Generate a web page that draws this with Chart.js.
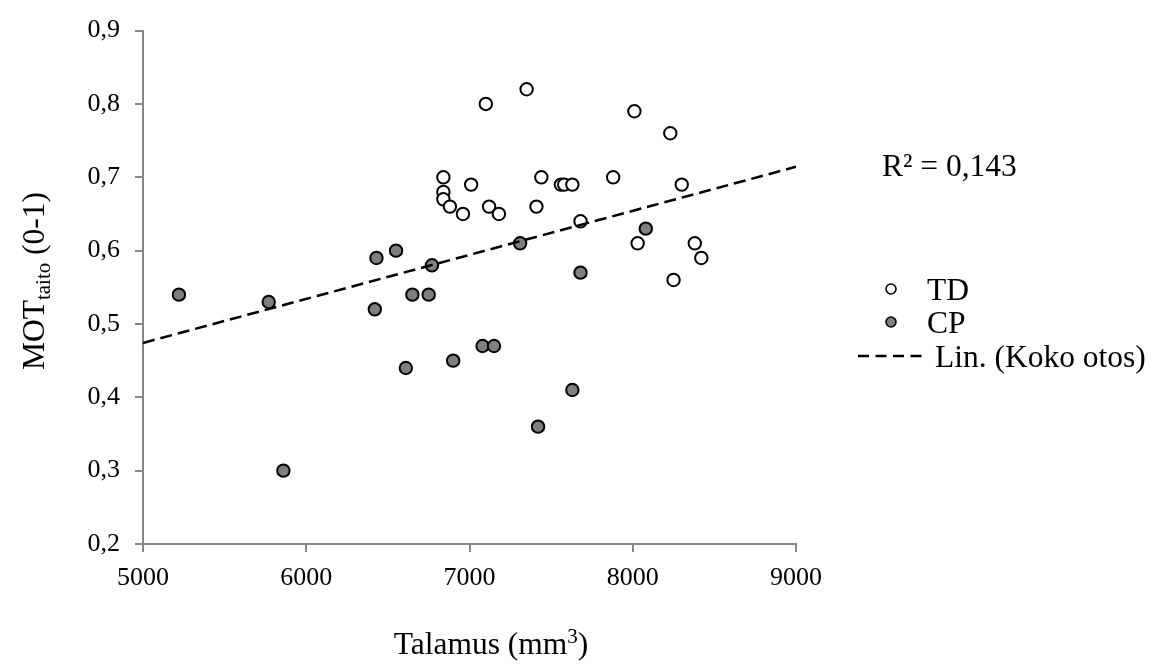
<!DOCTYPE html>
<html>
<head>
<meta charset="utf-8">
<script src="https://cdn.jsdelivr.net/npm/chart.js@4.4.1/dist/chart.umd.min.js"></script>
<style>
    body { margin: 0; background: #fff; }
    #wrap { width: 1157px; height: 664px; position: relative; }
</style>
</head>
<body>
<div id="wrap"><canvas id="chart" width="1157" height="664"></canvas></div>
<script>
// Data (Talamus mm3 vs MOT taito)
const tdX = [7100, 7350, 8010, 8230, 6840, 6840, 6840, 6880, 6960, 7010, 7120, 7180,
             7410, 7440, 7560, 7580, 7630, 7880, 7680, 8300, 8030, 8380, 8420, 8250];
const tdY = [0.80, 0.82, 0.79, 0.76, 0.70, 0.68, 0.67, 0.66, 0.65, 0.69, 0.66, 0.65,
             0.66, 0.70, 0.69, 0.69, 0.69, 0.70, 0.64, 0.69, 0.61, 0.61, 0.59, 0.56];
const cpX = [5220, 5770, 5860, 6420, 6430, 6550, 6610, 6650, 6750, 6770, 6900, 7080,
             7150, 7310, 7420, 7630, 7680, 8080];
const cpY = [0.54, 0.53, 0.30, 0.52, 0.59, 0.60, 0.44, 0.54, 0.54, 0.58, 0.45, 0.47,
             0.47, 0.61, 0.36, 0.41, 0.57, 0.63];
const xTicks = [5000, 6000, 7000, 8000, 9000];
const yTicks = [0.2, 0.3, 0.4, 0.5, 0.6, 0.7, 0.8, 0.9];
const trendRange = [5000, 9000];
const r2Label = 'R² = 0,143';
const seriesNames = ['TD', 'CP', 'Lin. (Koko otos)'];

const FONT = "'Liberation Serif', 'Times New Roman', serif";
const AXIS_GREY = '#868686';
const CP_FILL = '#7f7f7f';

const toPoints = (xs, ys) => xs.map((x, i) => ({ x: x, y: ys[i] }));

// Linear fit over the whole sample
const fitLine = () => {
    const xs = tdX.concat(cpX);
    const ys = tdY.concat(cpY);
    const n = xs.length;
    const mx = xs.reduce((a, b) => a + b, 0) / n;
    const my = ys.reduce((a, b) => a + b, 0) / n;
    let sxy = 0, sxx = 0;
    for (let i = 0; i < n; i++) {
        sxy += (xs[i] - mx) * (ys[i] - my);
        sxx += (xs[i] - mx) * (xs[i] - mx);
    }
    const b = sxy / sxx;
    const a = my - b * mx;
    return trendRange.map(x => ({ x: x, y: a + b * x }));
}

// Titles, R² label and legend drawn on the canvas
const textPlugin = {
    id: 'textPlugin',
    afterDraw(chart) {
        const ctx = chart.ctx;
        ctx.save();
        ctx.fillStyle = '#000';
        ctx.textBaseline = 'alphabetic';

        // x axis title with superscript
        const big = '31.5px ' + FONT, small = '21px ' + FONT;
        ctx.font = big;
        const t1 = 'Talamus (mm', t3 = ')';
        const w1 = ctx.measureText(t1).width, w3 = ctx.measureText(t3).width;
        ctx.font = small;
        const w2 = ctx.measureText('3').width;
        let x = 491 - (w1 + w2 + w3) / 2;
        const by = 654;
        ctx.font = big; ctx.textAlign = 'left';
        ctx.fillText(t1, x, by); x += w1;
        ctx.font = small; ctx.fillText('3', x, by - 11); x += w2;
        ctx.font = big; ctx.fillText(t3, x, by);

        // y axis title with subscript, rotated
        ctx.save();
        ctx.translate(44, 281);
        ctx.rotate(-Math.PI / 2);
        ctx.font = big;
        const s1 = 'MOT', s3 = ' (0-1)';
        const v1 = ctx.measureText(s1).width, v3 = ctx.measureText(s3).width;
        ctx.font = small;
        const v2 = ctx.measureText('taito').width;
        let sx = -(v1 + v2 + v3) / 2;
        ctx.font = big; ctx.fillText(s1, sx, 0); sx += v1;
        ctx.font = small; ctx.fillText('taito', sx, 6); sx += v2;
        ctx.font = big; ctx.fillText(s3, sx, 0);
        ctx.restore();

        // R² label
        ctx.font = big;
        ctx.fillText(r2Label, 882, 176);

        // legend
        const centers = [289, 322, 356];
        const fills = ['#ffffff', CP_FILL];
        for (let i = 0; i < 2; i++) {
            ctx.beginPath();
            ctx.arc(891, centers[i], 5, 0, Math.PI * 2);
            ctx.fillStyle = fills[i];
            ctx.fill();
            ctx.lineWidth = 1.6;
            ctx.strokeStyle = '#000';
            ctx.stroke();
            ctx.fillStyle = '#000';
            ctx.fillText(seriesNames[i], 927, centers[i] + 10.5);
        }
        ctx.beginPath();
        ctx.setLineDash([11, 6.5]);
        ctx.lineWidth = 2.5;
        ctx.moveTo(858, centers[2]);
        ctx.lineTo(922, centers[2]);
        ctx.stroke();
        ctx.setLineDash([]);
        ctx.fillText(seriesNames[2], 935, centers[2] + 10.5);
        ctx.restore();
    }
};

const initChart = () => {
    const ctx = document.getElementById('chart');
    new Chart(ctx, {
        type: 'scatter',
        data: {
            datasets: [
                {
                    type: 'line',
                    label: seriesNames[2],
                    data: fitLine(),
                    borderColor: '#000',
                    borderWidth: 2.5,
                    borderDash: [12, 6],
                    pointRadius: 0,
                    fill: false,
                    order: 0
                },
                {
                    label: seriesNames[0],
                    data: toPoints(tdX, tdY),
                    backgroundColor: '#ffffff',
                    borderColor: '#000',
                    borderWidth: 2,
                    pointRadius: 6.2,
                    order: 1
                },
                {
                    label: seriesNames[1],
                    data: toPoints(cpX, cpY),
                    backgroundColor: CP_FILL,
                    borderColor: '#000',
                    borderWidth: 2,
                    pointRadius: 6.2,
                    order: 2
                }
            ]
        },
        options: {
            responsive: false,
            animation: false,
            devicePixelRatio: 1,
            layout: { padding: { top: 19, right: 361, left: 0, bottom: 0 } },
            plugins: {
                legend: { display: false },
                tooltip: { enabled: false }
            },
            scales: {
                x: {
                    type: 'linear',
                    min: xTicks[0],
                    max: xTicks[xTicks.length - 1],
                    afterFit: (scale) => { scale.height = 120; },
                    afterBuildTicks: (scale) => { scale.ticks = xTicks.map(v => ({ value: v })); },
                    ticks: {
                        callback: (v) => String(v),
                        font: { family: FONT, size: 26 },
                        color: '#000',
                        padding: 11
                    },
                    grid: { drawOnChartArea: false, drawTicks: true, tickLength: 8, color: AXIS_GREY, lineWidth: 2 },
                    border: { color: AXIS_GREY, width: 2 }
                },
                y: {
                    min: yTicks[0],
                    max: yTicks[yTicks.length - 1],
                    afterFit: (scale) => { scale.width = 143; },
                    afterBuildTicks: (scale) => { scale.ticks = yTicks.map(v => ({ value: v })); },
                    ticks: {
                        callback: (v) => v.toFixed(1).replace('.', ','),
                        font: { family: FONT, size: 26 },
                        color: '#000',
                        padding: 15
                    },
                    grid: { drawOnChartArea: false, drawTicks: true, tickLength: 8, color: AXIS_GREY, lineWidth: 2 },
                    border: { color: AXIS_GREY, width: 2 }
                }
            }
        },
        plugins: [textPlugin]
    });
}

document.addEventListener('DOMContentLoaded', initChart);
</script>
</body>
</html>
